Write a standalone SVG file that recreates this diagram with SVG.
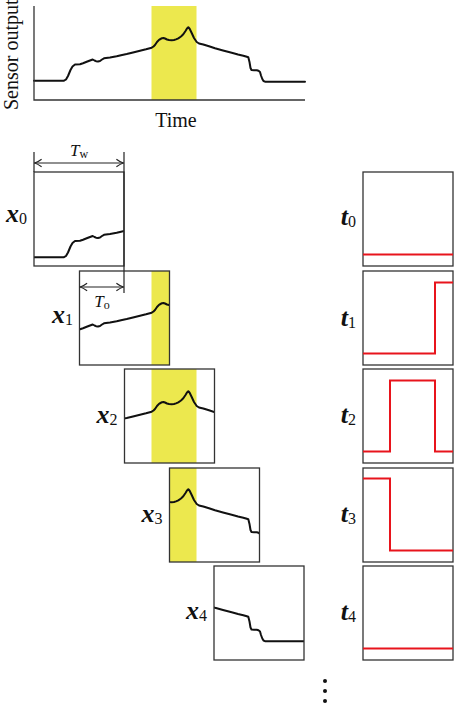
<svg xmlns="http://www.w3.org/2000/svg" xmlns:xlink="http://www.w3.org/1999/xlink" width="454" height="703" viewBox="0 0 454 703">
<style>
.box{fill:none;stroke:#333;stroke-width:1.3}
.ax{fill:none;stroke:#333;stroke-width:1.3}
.hl{fill:#ECE84E;stroke:none}
.sig{fill:none;stroke:#111;stroke-width:2;stroke-linejoin:round;stroke-linecap:round}
.tgt{fill:none;stroke:#E8141C;stroke-width:2;stroke-linejoin:miter}
.lbl{font-family:"Liberation Serif","Times New Roman",serif;font-size:20px;fill:#111}
.var{font-family:"Liberation Serif","Times New Roman",serif;font-size:26px;font-weight:bold;font-style:italic;fill:#111}
.sub{font-size:16px;font-weight:normal;font-style:normal}
.dim{font-family:"Liberation Serif","Times New Roman",serif;font-size:17px;font-style:italic;fill:#111}
.dsub{font-size:12px;font-style:normal}
.dl{fill:none;stroke:#222;stroke-width:1.2}
</style>
<defs>
<path id="curve" d="M34,80.7 L64,80.7 L66,79.5 L68,76 L70.5,70 L72.5,66.5 L75,64.5 L80,64.3 L83,63.3 L86.7,61.8 L90,60.5 L92.7,59.5 L94.5,60.5 L96,61.2 L98,61.5 L100,61 L102,59.5 L104,58.3 L110,57.5 L116.7,56.3 L121,55.2 L126.7,54 L133,52.5 L140,50.7 L146,49.3 L151.7,47.7 L153.5,46.5 L155,45 L157,42 L159,39.8 L160.5,39 L162,38.2 L163.5,38 L165,38.5 L167,39.5 L169,40 L171.7,40.2 L174,40 L176,39.4 L178.3,38.3 L181,36.5 L183.3,34.3 L185.5,31 L187,28.5 L188.3,27.3 L189.5,28.5 L191.7,33 L194,38 L196.7,42 L199,43.5 L203.3,44.5 L209,46.3 L215,48.3 L223,50.5 L231.7,52.7 L238,54.5 L243.3,55.7 L246,56.5 L248.3,57.3 L249.5,62 L250.5,68 L251.5,70 L254,70.2 L256.7,70.2 L258.5,70.8 L260,72 L261,75.5 L262.3,79 L263.5,81 L265,81.7 L305,81.7"/>
<clipPath id="c0"><rect x="34" y="172" width="90" height="94"/></clipPath>
<clipPath id="c1"><rect x="79.5" y="271" width="90" height="94"/></clipPath>
<clipPath id="c2"><rect x="124.5" y="369" width="90" height="94"/></clipPath>
<clipPath id="c3"><rect x="169.5" y="468" width="90" height="94"/></clipPath>
<clipPath id="c4"><rect x="214" y="566" width="90" height="94"/></clipPath>
<marker id="arr" viewBox="-8 -5 9 10" refX="0" refY="0" markerWidth="9" markerHeight="10" markerUnits="userSpaceOnUse" orient="auto-start-reverse">
<path d="M-7,-3.8 Q-3,-0.8 0,0 Q-3,0.8 -7,3.8" fill="none" stroke="#222" stroke-width="1.2"/>
</marker>
</defs>

<g id="sensor-plot">
<rect class="hl" x="151.5" y="6" width="45" height="94"/>
<use xlink:href="#curve" class="sig"/>
<path class="ax" d="M34,6 V100 H305"/>
<text class="lbl" transform="translate(17.5,110) rotate(-90)">Sensor output</text>
<text class="lbl" x="176" y="127" text-anchor="middle">Time</text>
</g>

<g id="window-x0">
<g clip-path="url(#c0)"><use xlink:href="#curve" class="sig" transform="translate(0,176.5)"/></g>
<rect class="box" x="34" y="172" width="90" height="94"/>
<text class="var" x="27" y="222" text-anchor="end">x<tspan class="sub" dy="2">0</tspan></text>
</g>

<g id="window-x1">
<g clip-path="url(#c1)"><rect class="hl" x="151.5" y="271" width="45" height="94"/><use xlink:href="#curve" class="sig" transform="translate(0,265)"/></g>
<rect class="box" x="79.5" y="271" width="90" height="94"/>
<text class="var" x="73" y="323" text-anchor="end">x<tspan class="sub" dy="2">1</tspan></text>
</g>

<g id="window-x2">
<g clip-path="url(#c2)"><rect class="hl" x="151.5" y="369" width="45" height="94"/><use xlink:href="#curve" class="sig" transform="translate(0,364)"/></g>
<rect class="box" x="124.5" y="369" width="90" height="94"/>
<text class="var" x="117.5" y="423" text-anchor="end">x<tspan class="sub" dy="2">2</tspan></text>
</g>

<g id="window-x3">
<g clip-path="url(#c3)"><rect class="hl" x="151.5" y="468" width="45" height="94"/><use xlink:href="#curve" class="sig" transform="translate(0,462)"/></g>
<rect class="box" x="169.5" y="468" width="90" height="94"/>
<text class="var" x="162.5" y="522" text-anchor="end">x<tspan class="sub" dy="2">3</tspan></text>
</g>

<g id="window-x4">
<g clip-path="url(#c4)"><use xlink:href="#curve" class="sig" transform="translate(0,559.5)"/></g>
<rect class="box" x="214" y="566" width="90" height="94"/>
<text class="var" x="207" y="619" text-anchor="end">x<tspan class="sub" dy="2">4</tspan></text>
</g>

<g id="target-t0">
<rect class="box" x="363" y="172" width="90" height="94"/>
<path class="tgt" d="M363,254.5 H453"/>
<text class="var" x="356" y="225" text-anchor="end">t<tspan class="sub" dy="2">0</tspan></text>
</g>
<g id="target-t1">
<rect class="box" x="363" y="271" width="90" height="94"/>
<path class="tgt" d="M363,353.5 H435 V282.5 H453"/>
<text class="var" x="356" y="326" text-anchor="end">t<tspan class="sub" dy="2">1</tspan></text>
</g>
<g id="target-t2">
<rect class="box" x="363" y="369" width="90" height="94"/>
<path class="tgt" d="M363,451.5 H390 V380.5 H435 V451.5 H453"/>
<text class="var" x="356" y="423" text-anchor="end">t<tspan class="sub" dy="2">2</tspan></text>
</g>
<g id="target-t3">
<rect class="box" x="363" y="468" width="90" height="94"/>
<path class="tgt" d="M363,478.5 H390 V550.5 H453"/>
<text class="var" x="356" y="522" text-anchor="end">t<tspan class="sub" dy="2">3</tspan></text>
</g>
<g id="target-t4">
<rect class="box" x="363" y="566" width="90" height="94"/>
<path class="tgt" d="M363,648.5 H453"/>
<text class="var" x="356" y="620" text-anchor="end">t<tspan class="sub" dy="2">4</tspan></text>
</g>

<g id="connectors">
<path class="dl" d="M34,152 V172"/>
<path class="dl" d="M124,152 V293"/>
<line class="dl" x1="34.6" y1="163" x2="123.4" y2="163" marker-start="url(#arr)" marker-end="url(#arr)"/>
<line class="dl" x1="80.1" y1="287" x2="123.4" y2="287" marker-start="url(#arr)" marker-end="url(#arr)"/>
<text class="dim" x="79" y="156" text-anchor="middle">T<tspan class="dsub" dy="2">w</tspan></text>
<text class="dim" x="102" y="307" text-anchor="middle">T<tspan class="dsub" dy="2">o</tspan></text>
</g>

<g id="ellipsis" fill="#111">
<circle cx="325" cy="681" r="2"/>
<circle cx="325" cy="691" r="2"/>
<circle cx="325" cy="701" r="2"/>
</g>
</svg>
